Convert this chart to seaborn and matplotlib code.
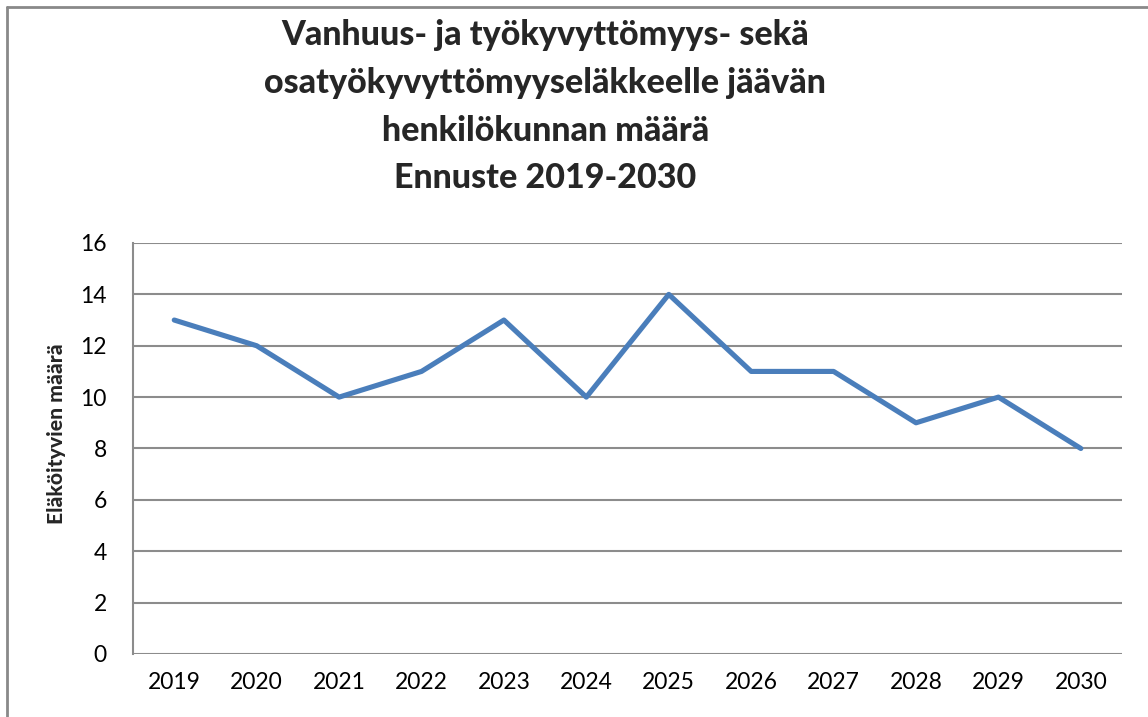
import pandas as pd
import seaborn as sns
import matplotlib.pyplot as plt
from matplotlib.lines import Line2D

# Data
years = ['2019', '2020', '2021', '2022', '2023', '2024',
         '2025', '2026', '2027', '2028', '2029', '2030']
retirees = [13, 12, 10, 11, 13, 10, 14, 11, 11, 9, 10, 8]
y_ticks = [0, 2, 4, 6, 8, 10, 12, 14, 16]

title = ("Vanhuus- ja työkyvyttömyys- sekä\n"
         "osatyökyvyttömyyseläkkeelle jäävän\n"
         "henkilökunnan määrä\n"
         "Ennuste 2019-2030")
y_label = "Eläköityvien määrä"

df = pd.DataFrame({'year': years, 'count': retirees})

sns.set_style("white")
plt.rcParams['font.family'] = ['Lato', 'DejaVu Sans']

fig = plt.figure(figsize=(11.48, 7.17), dpi=100)
ax = fig.add_axes([0.1159, 0.0879, 0.8615, 0.5732])

sns.lineplot(data=df, x='year', y='count', ax=ax, color='#4A7EBB',
             linewidth=3.7, sort=False)

ax.set_xlim(-0.5, len(years) - 0.5)
ax.set_ylim(0, 16)
ax.set_yticks(y_ticks)
ax.yaxis.grid(True, color='#8c8c8c', linewidth=1.5)
ax.set_axisbelow(True)
for side in ['top', 'right', 'bottom']:
    ax.spines[side].set_visible(False)
ax.spines['left'].set_color('#8c8c8c')
ax.spines['left'].set_linewidth(1.5)
ax.tick_params(axis='both', length=0, labelsize=16.5, colors='black')
ax.tick_params(axis='x', pad=13)
ax.tick_params(axis='y', pad=19)
ax.set_xlabel('')
ax.set_ylabel(y_label, fontsize=15.2, fontweight='black', va='center')
ax.yaxis.set_label_coords(-0.077, 0.535)

fig.text(0.475, 0.973, title, ha='center', va='top', fontsize=24.5,
         fontweight='black', linespacing=1.6)

# outer chart border (left and top only visible)
fig.add_artist(Line2D([0.0065, 0.0065], [0, 0.9905], transform=fig.transFigure,
                      color='#898989', linewidth=2))
fig.add_artist(Line2D([0.0065, 1], [0.9905, 0.9905], transform=fig.transFigure,
                      color='#898989', linewidth=2))

fig.savefig('out.png', dpi=100)
